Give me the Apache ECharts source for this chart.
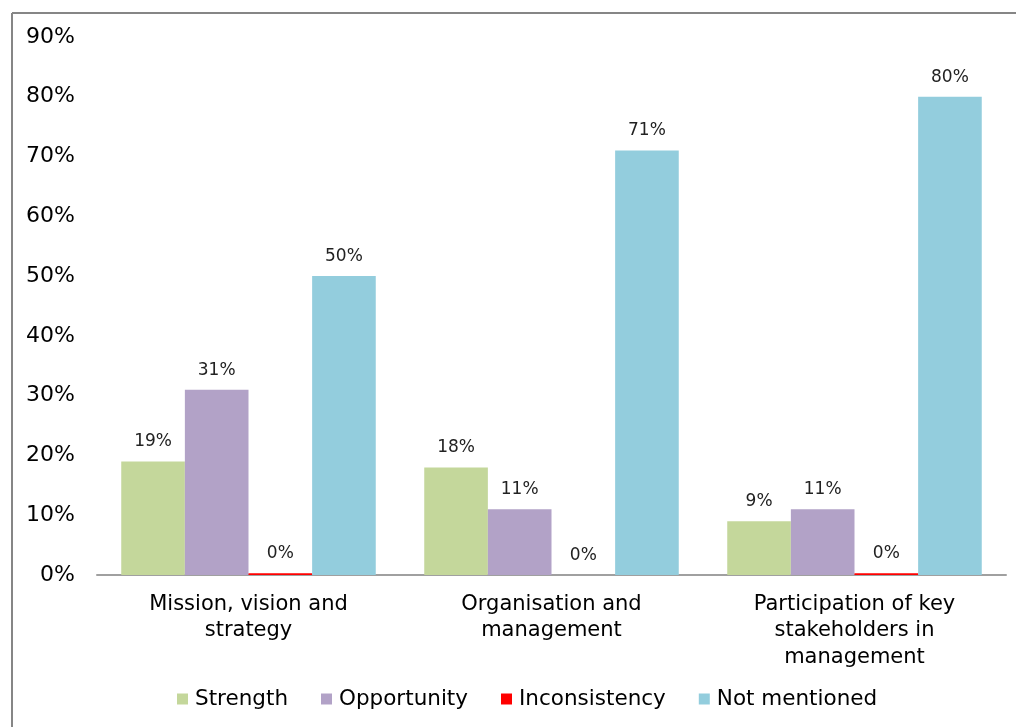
<!DOCTYPE html>
<html>
<head>
<meta charset="utf-8">
<script src="https://cdn.jsdelivr.net/npm/echarts@6/dist/echarts.min.js"></script>
<style>
  html, body { margin: 0; padding: 0; background: #fff; }
  #chart { width: 1016px; height: 727px; }
</style>
</head>
<body>
<div id="chart"></div>
<script>
var categories = ['Mission, vision and\nstrategy', 'Organisation and\nmanagement', 'Participation of key\nstakeholders in\nmanagement'];
var seriesNames = ['Strength', 'Opportunity', 'Inconsistency', 'Not mentioned'];
var strength = [19, 18, 9];
var opportunity = [31, 11, 11];
var inconsistency = [0.3, 0, 0.3];
var notMentioned = [50, 71, 80];
var yTicks = [0, 10, 20, 30, 40, 50, 60, 70, 80, 90];
var colors = ['#c4d79b', '#b2a2c7', '#ff0000', '#93cddd'];

var font = 'Verdana, "DejaVu Sans", sans-serif';
var chart = echarts.init(document.getElementById('chart'));

function makeSeries(name, data, color) {
    return {
        name: name,
        type: 'bar',
        data: data,
        barGap: '0%',
        barCategoryGap: '16%',
        itemStyle: { color: color },
        label: {
            show: true,
            position: 'top',
            distance: 11,
            fontFamily: font,
            fontSize: 17,
            color: '#222',
            formatter: function (p) { return Math.round(p.value) + '%'; }
        }
    };
}

var option = {
    animation: false,
    backgroundColor: '#fff',
    grid: { left: 97, right: 10, top: 37, bottom: 152, containLabel: false },
    legend: {
        bottom: 12,
        left: 172,
        itemWidth: 11,
        itemHeight: 11,
        itemGap: 33,
        icon: 'rect',
        textStyle: { fontFamily: font, fontSize: 21.5, color: '#000', padding: [0, 0, 0, 2] },
        data: seriesNames
    },
    xAxis: {
        type: 'category',
        data: categories,
        axisLine: { lineStyle: { color: '#a0a0a0', width: 2 } },
        axisTick: { show: false },
        axisLabel: {
            interval: 0,
            margin: 16,
            fontFamily: font,
            fontSize: 21,
            lineHeight: 26.5,
            color: '#000'
        }
    },
    yAxis: {
        type: 'value',
        min: yTicks[0],
        max: yTicks[yTicks.length - 1],
        interval: 10,
        splitLine: { show: false },
        axisLine: { show: false },
        axisTick: { show: false },
        axisLabel: {
            margin: 22,
            fontFamily: font,
            fontSize: 22,
            color: '#000',
            formatter: '{value}%'
        }
    },
    graphic: [
        { type: 'line', shape: { x1: 12, y1: 13, x2: 1016, y2: 13 }, style: { stroke: '#868686', lineWidth: 2 } },
        { type: 'line', shape: { x1: 12, y1: 13, x2: 12, y2: 727 }, style: { stroke: '#868686', lineWidth: 2 } }
    ],
    series: [
        makeSeries(seriesNames[0], strength, colors[0]),
        makeSeries(seriesNames[1], opportunity, colors[1]),
        makeSeries(seriesNames[2], inconsistency, colors[2]),
        makeSeries(seriesNames[3], notMentioned, colors[3])
    ]
};

chart.setOption(option);
</script>
</body>
</html>
